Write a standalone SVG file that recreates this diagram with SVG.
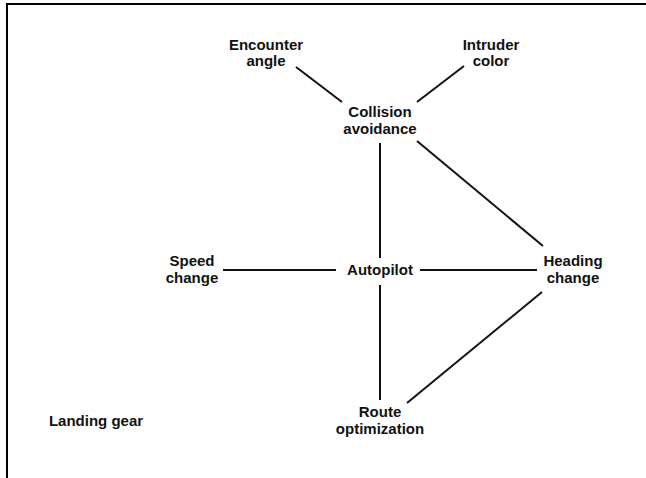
<svg xmlns="http://www.w3.org/2000/svg" width="646" height="478" viewBox="0 0 646 478">
<style>
text{font-family:"Liberation Sans",Arial,sans-serif;font-weight:bold;font-size:15px;fill:#111;text-anchor:middle}
.c line{stroke:#111;stroke-width:2;stroke-linecap:butt}
.frame{stroke:#000;stroke-width:2;fill:none}
</style>
<rect width="646" height="478" fill="#fff"/>
<path class="frame" d="M7,478 V4 H646"/>
<g class="c" id="connectors">
<line x1="296" y1="67" x2="342" y2="102"/>
<line x1="464" y1="66" x2="417" y2="102"/>
<line x1="380" y1="143" x2="380" y2="258"/>
<line x1="417" y1="141" x2="543" y2="246"/>
<line x1="223" y1="270" x2="336" y2="270"/>
<line x1="420" y1="270" x2="537" y2="270"/>
<line x1="380" y1="285" x2="380" y2="400"/>
<line x1="542" y1="292" x2="407" y2="403"/>
</g>
<g id="encounter-angle"><text x="266" y="50">Encounter</text><text x="266" y="66">angle</text></g>
<g id="intruder-color"><text x="491" y="50">Intruder</text><text x="491" y="66">color</text></g>
<g id="collision-avoidance"><text x="380" y="117">Collision</text><text x="380" y="134">avoidance</text></g>
<g id="speed-change"><text x="192" y="266">Speed</text><text x="192" y="283">change</text></g>
<g id="autopilot"><text x="380" y="275">Autopilot</text></g>
<g id="heading-change"><text x="573" y="266">Heading</text><text x="573" y="283">change</text></g>
<g id="route-optimization"><text x="380" y="417">Route</text><text x="380" y="434">optimization</text></g>
<g id="landing-gear"><text x="96" y="426">Landing gear</text></g>
</svg>
